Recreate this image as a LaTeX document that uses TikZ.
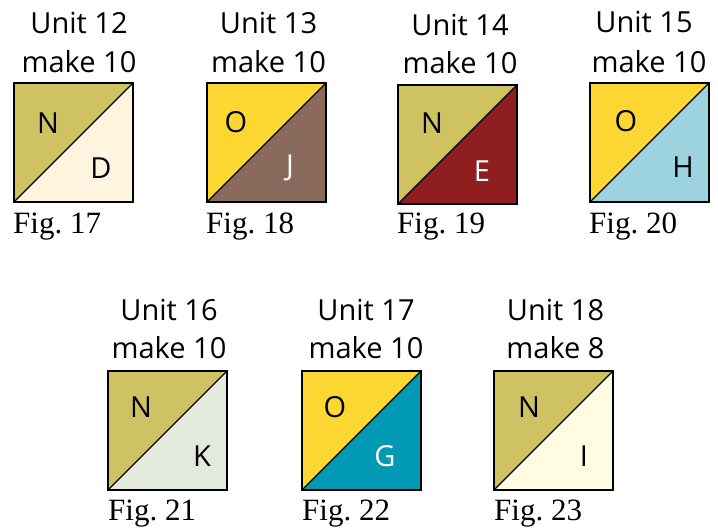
\documentclass[tikz,border=0pt]{standalone}
\usepackage{fontspec}
\setmainfont{Liberation Serif}
\newfontfamily\labfont{Open Sans}
\frenchspacing
\definecolor{olive}{HTML}{CFC262}
\definecolor{cream}{HTML}{FFF4E0}
\definecolor{gold}{HTML}{FCD732}
\definecolor{brown}{HTML}{8A6A5C}
\definecolor{darkred}{HTML}{8F1E1E}
\definecolor{lightblue}{HTML}{9DD3DF}
\definecolor{palegreen}{HTML}{E3EADB}
\definecolor{teal}{HTML}{0199B3}
\definecolor{paleyellow}{HTML}{FEFCE3}
\tikzset{
  lab/.style={font=\labfont\fontsize{29}{29}\selectfont, inner sep=0pt},
  title/.style={font=\labfont\fontsize{29}{29}\selectfont, inner sep=0pt, anchor=base},
  figlab/.style={font=\fontsize{31}{31}\selectfont, inner sep=0pt, anchor=base west},
  edge/.style={line width=1.3pt, black}
}
\newcommand\qblock[3]{%
  \fill[#1] (0,0) -- (119,0) -- (0,119) -- cycle;
  \fill[#2] (119,0) -- (119,119) -- (0,119) -- cycle;
  \draw[edge, line join=miter] (0,0) rectangle (119,119);
  \draw[edge] (0,119) -- (119,0);
}
\begin{document}
\begin{tikzpicture}[x=1pt,y=-1pt]
\useasboundingbox (0,0) rectangle (718,531);
% Fig 17
\begin{scope}[shift={(14,83)}]
  \qblock{olive}{cream}{}
  \node[lab] (n17) at (34,40) {N};
  \node[lab] (d17) at (87,85) {D};
  \node[title] (t17a) at (65,-50) {Unit 12};
  \node[title] (t17b) at (65,-11) {make 10};
  \node[figlab] (f17) at (-1,150) {Fig. 17};
\end{scope}
% Fig 18
\begin{scope}[shift={(207,83)}]
  \qblock{gold}{brown}{}
  \node[lab] (o18) at (29,39) {O};
  \node[lab,white] (j18) at (83,85) {J};
  \node[title] (t18a) at (61.5,-50) {Unit 13};
  \node[title] (t18b) at (61.5,-11) {make 10};
  \node[figlab] (f18) at (-1,150) {Fig. 18};
\end{scope}
% Fig 19
\begin{scope}[shift={(398,85)}]
  \qblock{olive}{darkred}{}
  \node[lab] (n19) at (34,38) {N};
  \node[lab,white] (e19) at (84,86) {E};
  \node[title] (t19a) at (62,-50) {Unit 14};
  \node[title] (t19b) at (62,-12) {make 10};
  \node[figlab] (f19) at (-1,148) {Fig. 19};
\end{scope}
% Fig 20
\begin{scope}[shift={(590,83)}]
  \qblock{gold}{lightblue}{}
  \node[lab] (o20) at (36,38) {O};
  \node[lab] (h20) at (93,84) {H};
  \node[title] (t20a) at (54,-51) {Unit 15};
  \node[title] (t20b) at (59,-11) {make 10};
  \node[figlab] (f20) at (-1,150) {Fig. 20};
\end{scope}
% Fig 21
\begin{scope}[shift={(108,371)}]
  \qblock{olive}{palegreen}{}
  \node[lab] (n21) at (33,36) {N};
  \node[lab] (k21) at (94,85) {K};
  \node[title] (t21a) at (61,-51) {Unit 16};
  \node[title] (t21b) at (61,-13) {make 10};
  \node[figlab] (f21) at (0,149) {Fig. 21};
\end{scope}
% Fig 22
\begin{scope}[shift={(302,371)}]
  \qblock{gold}{teal}{}
  \node[lab] (o22) at (33,36) {O};
  \node[lab,white] (g22) at (83,85) {G};
  \node[title] (t22a) at (64,-51) {Unit 17};
  \node[title] (t22b) at (64,-13) {make 10};
  \node[figlab] (f22) at (0,149) {Fig. 22};
\end{scope}
% Fig 23
\begin{scope}[shift={(494,371)}]
  \qblock{olive}{paleyellow}{}
  \node[lab] (n23) at (35,36) {N};
  \node[lab] (i23) at (90,85) {I};
  \node[title] (t23a) at (61.5,-51) {Unit 18};
  \node[title] (t23b) at (61.5,-13) {make 8};
  \node[figlab] (f23) at (0,149) {Fig. 23};
\end{scope}
\end{tikzpicture}
\end{document}
